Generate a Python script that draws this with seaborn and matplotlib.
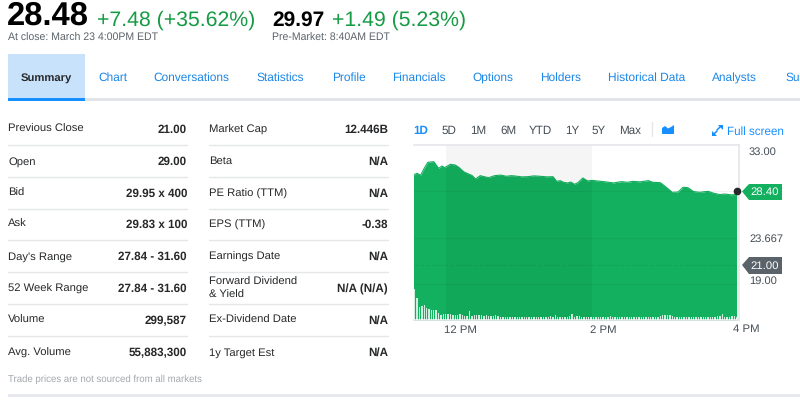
import numpy as np
import matplotlib
matplotlib.use('Agg')
import matplotlib.pyplot as plt
import seaborn as sns
from matplotlib.patches import Polygon, Rectangle

# ── Data ─────────────────────────────────────────────
# price line, minutes since midnight
price_minutes = [681, 684, 687, 690, 693, 698, 702, 705, 707, 712, 716, 719, 723, 727, 730, 733, 737,
                 741, 744, 749, 754, 759, 763, 766, 772, 777, 782, 787, 793, 798, 801, 804, 807, 810,
                 813, 816, 819, 823, 827, 831, 835, 842, 849, 853, 856, 860, 865, 871, 878, 882, 888,
                 893, 898, 903, 907, 911, 916, 921, 926, 928, 933, 938, 942, 947, 952]
price_values = [29.99, 30.16, 29.96, 30.66, 31.26, 31.33, 30.66, 30.89, 30.73, 31.06, 30.99, 30.76,
                30.32, 30.09, 29.95, 29.59, 29.92, 29.80, 29.72, 29.92, 29.98, 29.86, 29.92, 29.89,
                29.80, 29.82, 29.90, 29.86, 29.80, 29.82, 29.35, 29.42, 29.25, 29.19, 29.28, 29.05,
                29.22, 29.69, 29.39, 29.45, 29.39, 29.30, 29.19, 29.28, 29.32, 29.25, 29.35, 29.30,
                29.42, 29.25, 29.22, 28.75, 28.25, 28.28, 28.75, 28.72, 28.32, 28.25, 28.32, 28.35,
                28.15, 28.02, 28.08, 28.00, 28.02]
last_price = 28.40
prev_close = 21.00

# volume bars, one every 2 minutes from 11:21
volume_values = [31, 22, 13.5, 14, 15, 12.5, 11, 10, 10, 10.5,
                 7, 5.5, 6.5, 6, 6, 6, 5.5, 5, 5, 6.5,
                 5.5, 4, 4, 9.5, 4, 5, 5.5, 5, 5, 4.5,
                 5, 4, 4.5, 4, 5.5, 4.5, 3.5, 3.5, 3.5, 3,
                 3.5, 3.5, 3.5, 3, 3.5, 3, 3, 3, 3, 3,
                 3, 3, 3.5, 3, 3, 3, 3.5, 4, 3.5, 5.5,
                 3.5, 3.5, 3.5, 3.5, 3.5, 4, 6.5, 3.5, 4.5, 4,
                 3.5, 3.5, 3.5, 3.5, 3, 3, 3, 3, 3, 3.5,
                 3, 3, 4, 3.5, 3.5, 3.5, 3.5, 3, 3, 3,
                 3, 3, 3, 3, 3, 3, 3.5, 3.5, 3.5, 3.5,
                 3, 3, 3.5, 4.5, 5.5, 5.5, 5.5, 5, 4, 3.5,
                 3, 3, 3, 3.5, 3.5, 3.5, 3.5, 3.5, 3.5, 3.5,
                 3.5, 3.5, 3.5, 3, 3, 3, 3.5, 4, 4, 6,
                 3.5, 3.5, 3.5, 4, 4, 3.5]
volume_minutes = [682 + 2 * i for i in range(len(volume_values))]

tab_labels = ['Chart', 'Conversations', 'Statistics', 'Profile', 'Financials',
              'Options', 'Holders', 'Historical Data', 'Analysts', 'Su']
left_labels = ['Previous Close', 'Open', 'Bid', 'Ask', "Day's Range",
               '52 Week Range', 'Volume', 'Avg. Volume']
left_values = ['21.00', '29.00', '29.95 x 400', '29.83 x 100', '27.84 - 31.60',
               '27.84 - 31.60', '299,587', '55,883,300']
right_labels = ['Market Cap', 'Beta', 'PE Ratio (TTM)', 'EPS (TTM)', 'Earnings Date',
                'Forward Dividend\n& Yield', 'Ex-Dividend Date', '1y Target Est']
right_values = ['12.446B', 'N/A', 'N/A', '-0.38', 'N/A', 'N/A (N/A)', 'N/A', 'N/A']
range_labels = ['1D', '5D', '1M', '6M', 'YTD', '1Y', '5Y', 'Max']

# ── Style ────────────────────────────────────────────
sns.set_theme(style='white')
plt.rcParams['font.family'] = ['Liberation Sans', 'DejaVu Sans']
plt.rcParams['text.hinting'] = 'no_hinting'

GREEN = '#13b05f'
TEXT_GREEN = '#169b45'
BLUE = '#188fff'
DARK = '#26282a'
GREY = '#5b636a'
LINE = '#e4e6ea'

fig = plt.figure(figsize=(8, 4), dpi=100, facecolor='white')

# ── Chart panel ──────────────────────────────────────
ax = fig.add_axes([413.5 / 800, 80 / 400, 325.5 / 800, 175 / 400])
ax.set_xlim(681, 954)
ax.set_ylim(15.43, 33)
bottom = 15.43

ax.axvspan(708, 831, color='#f5f5f5', lw=0, zorder=0)
area = ax.fill_between(price_minutes, price_values, bottom, color=GREEN, lw=0, zorder=1)
sns.lineplot(x=price_minutes, y=price_values, color=GREEN, linewidth=0.8, ax=ax, zorder=2)
band = ax.axvspan(708, 831, color='black', alpha=0.045, lw=0, zorder=2)
band.set_clip_path(area.get_paths()[0], area.get_transform())

for level, style in [(last_price, '-'), (23.667, '-'), (prev_close, '--'), (19.0, '-')]:
    ax.axhline(level, xmin=0, xmax=0.995, color='black', alpha=0.05, lw=0.8, ls=style, zorder=3)

ax.set_xticks([720, 840])
ax.set_xticklabels(['12 PM', '2 PM'], fontsize=8.2, color='#464e56')
ax.set_yticks([])
ax.tick_params(axis='x', length=0, pad=3.5)
ax.set_xlabel('')
ax.set_ylabel('')
ax.text(960, -0.05, '4 PM', transform=ax.get_xaxis_transform(), ha='center', va='center',
        fontsize=8.2, color='#464e56', clip_on=False)
for side in ['top', 'right', 'left', 'bottom']:
    ax.spines[side].set_color(LINE)
    ax.spines[side].set_linewidth(1.2)
ax.spines['left'].set_visible(False)

ax.plot([952], [last_price], 'o', color=DARK, ms=4.5, zorder=6, clip_on=False)

# volume on its own scale, sharing the time axis
ax_vol = ax.twinx()
sns.barplot(x=volume_minutes, y=volume_values, native_scale=True, color='white',
            width=0.55, saturation=1, alpha=0.8, linewidth=0, ax=ax_vol, zorder=4)
ax_vol.set_xlim(681, 954)
ax_vol.set_ylim(0, 175)
ax_vol.set_yticks([])
ax_vol.set_ylabel('')
for side in ax_vol.spines:
    ax_vol.spines[side].set_visible(False)

# ── Page furniture in pixel coordinates ──────────────
page = fig.add_axes([0, 0, 1, 1], zorder=10)
page.set_xlim(0, 800)
page.set_ylim(400, 0)
page.axis('off')
page.patch.set_alpha(0)

# quote header
page.text(7, 16, '28.48', fontsize=23.6, fontweight='bold', color='black', va='center')
page.text(97, 20, '+7.48 (+35.62%)', fontsize=15.3, color=TEXT_GREEN, va='center')
page.text(272, 20, '29.97', fontsize=15, fontweight='bold', color='black', va='center')
page.text(332, 20, '+1.49 (5.23%)', fontsize=15.3, color=TEXT_GREEN, va='center')
page.text(8, 38, 'At close: March 23 4:00PM EDT', fontsize=7.6, color='#5b636a', va='center')
page.text(272, 38, 'Pre-Market: 8:40AM EDT', fontsize=7.6, color='#5b636a', va='center')

# tabs
page.add_patch(Rectangle((8, 54), 76.5, 45, color='#c9e2fc', lw=0))
page.add_patch(Rectangle((84.5, 98), 716, 3, color='#e3e4ea', lw=0))
page.add_patch(Rectangle((8, 98), 76.5, 3, color=BLUE, lw=0))
page.text(46, 78, 'Summary', fontsize=8.1, fontweight='bold', color=DARK, ha='center', va='center')
tab_x = [98, 153, 256, 332, 392, 472, 540, 608, 712, 785]
for x, label in zip(tab_x, tab_labels):
    page.text(x, 78, label, fontsize=8.6, color='#1a86e8', va='center', clip_on=True)

# stats tables
row_y = [129, 161, 193, 224, 256, 288, 320, 352]
line_y = [145, 177, 209, 240, 272, 304, 336]
for y in line_y:
    page.plot([8, 187], [y, y], color=LINE, lw=1)
    page.plot([209, 388], [y, y], color=LINE, lw=1)
for y, label, value in zip(row_y, left_labels, left_values):
    page.text(8, y + 0.5, label, fontsize=8.1, color=DARK, va='center')
    page.text(187, y + 1, value, fontsize=8.4, fontweight='bold', color=DARK, ha='right', va='center')
for y, label, value in zip(row_y, right_labels, right_values):
    page.text(209, y + 0.5, label, fontsize=8.1, color=DARK, va='center', linespacing=1.25)
    page.text(388, y + 1, value, fontsize=8.4, fontweight='bold', color=DARK, ha='right', va='center')
page.text(8, 379.5, 'Trade prices are not sourced from all markets', fontsize=6.95, color='#a3a8ad', va='center')
page.add_patch(Rectangle((8, 394), 792, 3, color='#e8e9ee', lw=0))

# range selector
range_x = [421, 449, 478, 508, 540, 572, 599, 630]
for i, (x, label) in enumerate(zip(range_x, range_labels)):
    page.text(x, 130.5, label, fontsize=8.4, ha='center', va='center',
              color=BLUE if i == 0 else '#464e56', fontweight='bold' if i == 0 else 'normal')
page.plot([651.5, 651.5], [122, 136], color=LINE, lw=1)
page.add_patch(Polygon([(662, 134), (662, 128), (665, 126), (668, 128.5), (671, 127), (674, 125), (674, 134)],
                       closed=True, color=BLUE, lw=0))
# expand icon
page.plot([717, 721], [130, 126], color=BLUE, lw=1.1)
page.add_patch(Polygon([(718, 125), (723, 125), (723, 130)], closed=True, color=BLUE, lw=0))
page.plot([713, 717], [135, 131], color=BLUE, lw=1.1)
page.add_patch(Polygon([(712, 131), (712, 136), (717, 136)], closed=True, color=BLUE, lw=0))
page.text(727, 131.5, 'Full screen', fontsize=8.4, color=BLUE, va='center')

# price axis labels and tags
page.add_patch(Polygon([(742, 191.5), (749, 184), (782, 184), (782, 200), (749, 200)], closed=True, color=GREEN, lw=0))
page.text(750, 192.5, '28.40', fontsize=8.2, color='white', va='center')
page.add_patch(Polygon([(742, 265), (749, 257), (782, 257), (782, 274), (749, 274)], closed=True, color=GREY, lw=0))
page.text(750, 266, '21.00', fontsize=8.2, color='white', va='center')
for y, label in [(152, '33.00'), (239, '23.667'), (281, '19.00')]:
    page.text(749, y, label, fontsize=8, color='#464e56', va='center')

fig.savefig('out.png', dpi=100)
